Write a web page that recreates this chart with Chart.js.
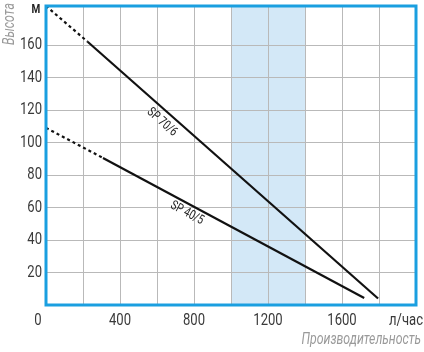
<!DOCTYPE html>
<html lang="ru">
<head>
    <meta charset="UTF-8">
    <title>SP pump curves</title>
    <script src="https://cdn.jsdelivr.net/npm/chart.js"></script>
    <style>
        html, body { margin: 0; padding: 0; background: #fff; }
        #wrap { width: 424px; height: 352px; }
    </style>
</head>
<body>
    <div id="wrap"><canvas id="chart" width="424" height="352"></canvas></div>

    <script>
        // Производительность, л/час
        const flowSP70 = [0, 225, 1795];
        const flowSP40 = [0, 308, 1720];
        // Высота, м
        const headSP70 = [184, 162, 4];
        const headSP40 = [109, 90.5, 4.3];

        const xGrid = [200, 400, 600, 800, 1000, 1200, 1400, 1600, 1800];
        const xLabels = [400, 800, 1200, 1600];
        const yGrid = [20, 40, 60, 80, 100, 120, 140, 160];
        const workBand = [1000, 1400];

        // подписи кривых: текст, точка привязки (л/час, м)
        const curveNames = ['SP 70/6', 'SP 40/5'];
        const nameAnchorX = [627, 762];
        const nameAnchorY = [112.5, 56.5];

        const FONT = 'Roboto, "Noto Sans", sans-serif';
        const NARROW = 0.77; // сжатие по горизонтали, как у узкого шрифта
        const BLUE = '#1a9fe0';

        const toPoints = (xs, ys) => xs.map((x, i) => ({ x: x, y: ys[i] }));

        const dashFirst = {
            borderDash: ctx => ctx.p0DataIndex === 0 ? [3, 3] : undefined
        };

        // текст узким начертанием
        function narrowText(ctx, text, x, y, align) {
            ctx.save();
            ctx.textAlign = align || 'center';
            ctx.scale(NARROW, 1);
            ctx.fillText(text, x / NARROW, y);
            ctx.restore();
        }

        const decor = {
            id: 'decor',
            beforeDraw(chart) {
                const { ctx, chartArea: a, scales: { x } } = chart;
                ctx.save();
                ctx.fillStyle = '#d3e8f7';
                const x0 = x.getPixelForValue(workBand[0]);
                const x1 = x.getPixelForValue(workBand[1]);
                ctx.fillRect(x0, a.top, x1 - x0, a.bottom - a.top);
                ctx.restore();
            },
            afterDatasetsDraw(chart) {
                const { ctx, scales: { x, y } } = chart;
                ctx.save();
                ctx.fillStyle = '#222';
                ctx.font = '13px ' + FONT;
                ctx.textBaseline = 'middle';
                const series = [[flowSP70, headSP70], [flowSP40, headSP40]];
                curveNames.forEach((name, i) => {
                    const [fx, hy] = series[i];
                    const dx = x.getPixelForValue(fx[2]) - x.getPixelForValue(fx[1]);
                    const dy = y.getPixelForValue(hy[2]) - y.getPixelForValue(hy[1]);
                    ctx.save();
                    ctx.translate(x.getPixelForValue(nameAnchorX[i]), y.getPixelForValue(nameAnchorY[i]));
                    ctx.rotate(Math.atan2(dy, dx));
                    narrowText(ctx, name, 0, 0);
                    ctx.restore();
                });
                ctx.restore();
            },
            afterDraw(chart) {
                const { ctx, chartArea: a, scales: { x, y } } = chart;
                ctx.save();
                ctx.strokeStyle = BLUE;
                ctx.lineWidth = 3;
                ctx.strokeRect(a.left, a.top, a.right - a.left, a.bottom - a.top);

                // деления
                ctx.fillStyle = '#3a3a3a';
                ctx.font = '17px ' + FONT;
                ctx.textBaseline = 'middle';
                yGrid.forEach(v => narrowText(ctx, String(v), a.left - 4, y.getPixelForValue(v), 'right'));
                xLabels.forEach(v => narrowText(ctx, String(v), x.getPixelForValue(v), 321));
                narrowText(ctx, '0', x.getPixelForValue(0) - 8, 321);
                narrowText(ctx, 'л/час', x.getPixelForValue(2000) - 10, 321);

                ctx.font = 'bold 13px ' + FONT;
                ctx.fillStyle = '#222';
                narrowText(ctx, 'M', a.left - 10, 10);

                // названия осей
                ctx.fillStyle = '#9a9a9a';
                ctx.font = 'italic 16px ' + FONT;
                narrowText(ctx, 'Производительность', 421, 340, 'right');

                ctx.translate(10, 24);
                ctx.rotate(-Math.PI / 2);
                narrowText(ctx, 'Высота', 0, 0);
                ctx.restore();
            }
        };

        new Chart(document.getElementById('chart'), {
            type: 'line',
            data: {
                datasets: [{
                    label: curveNames[0],
                    data: toPoints(flowSP70, headSP70),
                    segment: dashFirst
                }, {
                    label: curveNames[1],
                    data: toPoints(flowSP40, headSP40),
                    segment: dashFirst
                }]
            },
            options: {
                responsive: false,
                animation: false,
                layout: { padding: { left: 0, right: 8, top: 6, bottom: 0 } },
                elements: {
                    line: { borderColor: '#111', borderWidth: 2.2, tension: 0 },
                    point: { radius: 0 }
                },
                plugins: {
                    legend: { display: false },
                    tooltip: { enabled: false }
                },
                scales: {
                    x: {
                        type: 'linear',
                        min: 0,
                        max: 2000,
                        afterBuildTicks: s => { s.ticks = xGrid.map(v => ({ value: v })); },
                        afterFit: s => { s.height = 47; },
                        grid: { color: '#b9b9b9', lineWidth: 1, drawTicks: false },
                        border: { display: false },
                        ticks: { display: false }
                    },
                    y: {
                        min: 0,
                        max: 184,
                        afterBuildTicks: s => { s.ticks = yGrid.map(v => ({ value: v })); },
                        afterFit: s => { s.width = 46; },
                        grid: { color: '#b9b9b9', lineWidth: 1, drawTicks: false },
                        border: { display: false },
                        ticks: { display: false }
                    }
                }
            },
            plugins: [decor]
        });
    </script>
</body>
</html>
